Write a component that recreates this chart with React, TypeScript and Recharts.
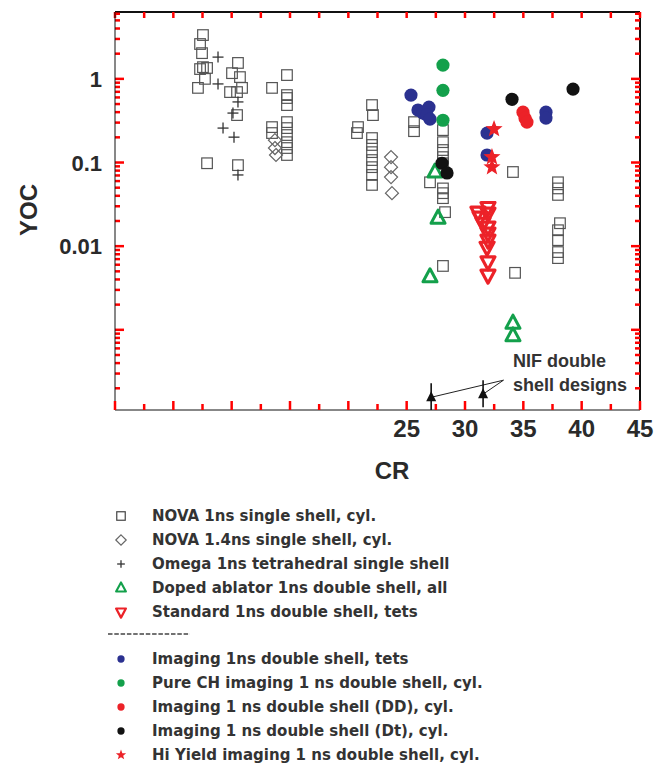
import React from 'react';
import { ScatterChart, Scatter, XAxis, YAxis, ReferenceLine } from 'recharts';

// ---------------- data: [CR, YOC] ----------------
const nova1ns: [number, number][] = [
  [7.54, 3.34], [7.29, 2.61], [7.46, 2.03], [7.54, 1.38], [7.29, 1.31], [7.89, 1.35], [7.71, 1.0], [7.11, 0.78],
  [10.54, 1.55], [10.03, 1.17], [10.71, 1.05], [10.89, 0.78], [9.86, 0.695], [10.46, 0.695], [10.46, 0.369],
  [7.89, 0.098], [10.54, 0.093],
  [13.46, 0.78], [14.74, 1.11], [14.74, 0.64], [14.74, 0.59], [14.74, 0.486], [14.74, 0.304], [14.74, 0.258],
  [14.74, 0.213], [14.74, 0.175], [14.74, 0.149], [14.74, 0.123], [13.46, 0.265], [13.46, 0.225],
  [22.03, 0.486], [22.11, 0.369], [20.83, 0.265], [20.74, 0.225], [22.03, 0.196], [22.03, 0.162], [22.03, 0.133],
  [22.03, 0.107], [22.03, 0.088], [22.03, 0.071], [22.03, 0.054],
  [25.63, 0.304], [25.63, 0.237],
  [28.11, 0.244], [28.11, 0.175], [28.11, 0.141], [28.11, 0.116], [28.11, 0.098], [28.11, 0.049], [28.11, 0.043],
  [28.11, 0.0375], [28.29, 0.0255], [28.11, 0.0058], [27.0, 0.058],
  [34.11, 0.077], [34.29, 0.0048],
  [37.97, 0.058], [37.97, 0.049], [37.97, 0.041], [38.14, 0.0188], [37.97, 0.0155], [37.97, 0.0118],
  [37.97, 0.0085], [37.97, 0.0072],
];
const nova14ns: [number, number][] = [
  [13.71, 0.185], [13.71, 0.149], [13.8, 0.123], [23.66, 0.116], [23.66, 0.088], [23.66, 0.067], [23.74, 0.043],
];
const omegaTet: [number, number][] = [
  [8.83, 1.82], [8.83, 0.87], [10.54, 0.53], [10.11, 0.39], [9.26, 0.258], [10.2, 0.201], [10.54, 0.071],
];
const dopedAblator: [number, number][] = [
  [27.43, 0.077], [27.69, 0.0216], [27.0, 0.0043], [34.11, 0.0012], [34.11, 0.00085],
];
const standardDS: [number, number][] = [
  [31.97, 0.029], [31.97, 0.0248], [31.29, 0.0222], [31.11, 0.0255], [31.54, 0.0188], [31.97, 0.0169],
  [31.97, 0.0143], [31.97, 0.0118], [31.89, 0.0097], [31.97, 0.0065], [31.97, 0.0045],
];
const imagingTets: [number, number][] = [
  [25.37, 0.64], [25.97, 0.424], [26.4, 0.39], [26.91, 0.46], [26.74, 0.369], [27.0, 0.33],
  [31.89, 0.225], [31.89, 0.123], [36.94, 0.4], [36.94, 0.34],
];
const pureCH: [number, number][] = [
  [28.11, 1.46], [28.11, 0.73], [28.11, 0.32],
];
const imagingDD: [number, number][] = [
  [34.97, 0.4], [35.14, 0.34], [35.31, 0.304],
];
const imagingDt: [number, number][] = [
  [34.03, 0.57], [39.26, 0.755], [28.03, 0.098], [28.46, 0.075],
];
const hiYield: [number, number][] = [
  [32.49, 0.251], [32.31, 0.116], [32.31, 0.088],
];
const nifDesigns: [number, number][] = [
  [27.1, 0.000156], [31.55, 0.00017],
];
const nifLabelAnchor: [number, number] = [33.3, 0.00025];

const xTickLabels = [25, 30, 35, 40, 45];
const yTickLabels = ['1', '0.1', '0.01'];

// ---------------- layout ----------------
const CHART_W = 663;
const CHART_H = 450;
const PLOT_LEFT = 115;
const PLOT_RIGHT = 640;
const PLOT_TOP = 12;
const X_AXIS_H = 30;
const MARGIN_BOTTOM = 10;
const X_DOMAIN: [number, number] = [0, 45];
const Y_DOMAIN: [number, number] = [1.1e-4, 6.3];
const FONT = "'Liberation Sans', Arial, Helvetica, sans-serif";
const LEGEND_FONT = "'DejaVu Sans', Verdana, sans-serif";

const PLOT_W = PLOT_RIGHT - PLOT_LEFT;
const PLOT_H = CHART_H - PLOT_TOP - X_AXIS_H - MARGIN_BOTTOM;
const PX_PER_X = PLOT_W / (X_DOMAIN[1] - X_DOMAIN[0]);
const PX_PER_DECADE = PLOT_H / (Math.log10(Y_DOMAIN[1]) - Math.log10(Y_DOMAIN[0]));
const dx = (px: number) => px / PX_PER_X;
const fy = (px: number) => Math.pow(10, px / PX_PER_DECADE);

const xTicks: number[] = [];
for (let i = 0; i <= 18; i++) xTicks.push(i * 2.5);
const yTicks: number[] = [];
for (let d = -4; d <= 0; d++) {
  for (let m = 1; m <= 9; m++) {
    const v = parseFloat((m * Math.pow(10, d)).toPrecision(6));
    if (v >= Y_DOMAIN[0] * 0.999 && v <= Y_DOMAIN[1]) yTicks.push(v);
  }
}
const isMajorX = (v: number) => Math.abs(v / 5 - Math.round(v / 5)) < 1e-9;
const isMajorY = (v: number) => {
  const lg = Math.log10(v);
  return Math.abs(lg - Math.round(lg)) < 1e-6;
};

const BLUE = '#2b3190';
const GREEN = '#13a04b';
const RED = '#ec2228';
const BLACK = '#121212';
const GRAY = '#555';
const AXIS = '#111';
const TICK = 'red';

type Kind = 'square' | 'diamond' | 'plus' | 'triUp' | 'triDown' | 'circle' | 'star' | 'nif';

function starPoints(cx: number, cy: number, R: number, r: number) {
  const pts: string[] = [];
  for (let i = 0; i < 10; i++) {
    const ang = -Math.PI / 2 + (i * Math.PI) / 5;
    const rad = i % 2 === 0 ? R : r;
    pts.push(`${cx + rad * Math.cos(ang)},${cy + rad * Math.sin(ang)}`);
  }
  return pts.join(' ');
}

function Marker({ kind, cx, cy, color, s = 1 }: { kind: Kind; cx: number; cy: number; color: string; s?: number }) {
  if (cx == null || cy == null || isNaN(cx) || isNaN(cy)) return null;
  switch (kind) {
    case 'square': {
      const h = 5.3 * s;
      return <rect x={cx - h} y={cy - h} width={2 * h} height={2 * h} fill="none" stroke={color} strokeWidth={1.2} />;
    }
    case 'diamond': {
      const h = 6.5 * s;
      return (
        <polygon points={`${cx},${cy - h} ${cx + h},${cy} ${cx},${cy + h} ${cx - h},${cy}`} fill="none" stroke={color} strokeWidth={1.2} />
      );
    }
    case 'plus': {
      const h = 5.5 * s;
      return (
        <g stroke={color} strokeWidth={1.3}>
          <line x1={cx - h} y1={cy} x2={cx + h} y2={cy} />
          <line x1={cx} y1={cy - h} x2={cx} y2={cy + h} />
        </g>
      );
    }
    case 'triUp': {
      const w = 7 * s, t = 8 * s, b = 5 * s;
      return (
        <polygon points={`${cx},${cy - t} ${cx + w},${cy + b} ${cx - w},${cy + b}`} fill="none" stroke={color} strokeWidth={3 * s} strokeLinejoin="round" />
      );
    }
    case 'triDown': {
      const w = 7 * s, t = 8 * s, b = 5 * s;
      return (
        <polygon points={`${cx},${cy + t} ${cx + w},${cy - b} ${cx - w},${cy - b}`} fill="none" stroke={color} strokeWidth={3.2 * s} strokeLinejoin="round" />
      );
    }
    case 'circle':
      return <circle cx={cx} cy={cy} r={6.6 * s} fill={color} />;
    case 'star':
      return <polygon points={starPoints(cx, cy, 9 * s, 3.8 * s)} fill={color} />;
    case 'nif':
      return (
        <g>
          <line x1={cx} y1={cy - 14} x2={cx} y2={cy + 13} stroke={color} strokeWidth={1.6} />
          <polygon points={`${cx},${cy - 6} ${cx + 5},${cy + 4} ${cx - 5},${cy + 4}`} fill={color} />
        </g>
      );
  }
  return null;
}

type Series = { name: string; data: [number, number][]; kind: Kind; color: string; legendScale: number };

const seriesA: Series[] = [
  { name: 'NOVA 1ns single shell, cyl.', data: nova1ns, kind: 'square', color: GRAY, legendScale: 0.8 },
  { name: 'NOVA 1.4ns single shell, cyl.', data: nova14ns, kind: 'diamond', color: '#666', legendScale: 0.8 },
  { name: 'Omega 1ns tetrahedral single shell', data: omegaTet, kind: 'plus', color: '#333', legendScale: 0.7 },
  { name: 'Doped ablator 1ns double shell, all', data: dopedAblator, kind: 'triUp', color: GREEN, legendScale: 0.7 },
  { name: 'Standard 1ns double shell, tets', data: standardDS, kind: 'triDown', color: RED, legendScale: 0.7 },
];
const seriesB: Series[] = [
  { name: 'Imaging 1ns double shell, tets', data: imagingTets, kind: 'circle', color: BLUE, legendScale: 0.55 },
  { name: 'Pure CH imaging 1 ns double shell, cyl.', data: pureCH, kind: 'circle', color: GREEN, legendScale: 0.55 },
  { name: 'Imaging 1 ns double shell (DD), cyl.', data: imagingDD, kind: 'circle', color: RED, legendScale: 0.55 },
  { name: 'Imaging 1 ns double shell (Dt), cyl.', data: imagingDt, kind: 'circle', color: BLACK, legendScale: 0.55 },
  { name: 'Hi Yield imaging 1 ns double shell, cyl.', data: hiYield, kind: 'star', color: RED, legendScale: 0.6 },
];

const toPts = (arr: [number, number][]) => arr.map(([x, y]) => ({ x, y }));

const XTick = (props: any) => {
  const { x, y, payload } = props;
  const v = payload.value as number;
  const major = isMajorX(v);
  const show = major && xTickLabels.includes(v);
  return (
    <g>
      <line x1={x} y1={y} x2={x} y2={y - (major ? 9 : 6)} stroke={TICK} strokeWidth={2.5} />
      {show ? (
        <text x={x} y={y + 27} textAnchor="middle" fontSize={24} fontWeight="bold" fontFamily={FONT} fill="#2a2a2a">
          {String(v)}
        </text>
      ) : null}
    </g>
  );
};

const YTick = (props: any) => {
  const { x, y, payload } = props;
  const v = payload.value as number;
  const lbl = yTickLabels.find((t) => Math.abs(parseFloat(t) - v) < 1e-9);
  const len = isMajorY(v) ? 9 : 5;
  return (
    <g>
      <line x1={PLOT_RIGHT} y1={y} x2={PLOT_RIGHT - len} y2={y} stroke={TICK} strokeWidth={2.5} />
      {lbl ? (
        <text x={x - 13} y={y + 8} textAnchor="end" fontSize={22} fontWeight="bold" fontFamily={FONT} fill="#2a2a2a">
          {lbl}
        </text>
      ) : null}
    </g>
  );
};

function LegendRow({ s, top }: { s: Series; top: number }) {
  return (
    <div style={{ position: 'absolute', left: 110, top: top - 12, width: 24, height: 24 }}>
      <svg width={24} height={24} style={{ display: 'block' }}>
        <Marker kind={s.kind} cx={11} cy={12} color={s.kind === 'square' ? '#444' : s.color} s={s.legendScale} />
      </svg>
      <span
        style={{
          position: 'absolute',
          left: 42,
          top: 2,
          whiteSpace: 'nowrap',
          fontFamily: LEGEND_FONT,
          fontWeight: 'bold',
          fontSize: 15,
          color: '#333',
          lineHeight: '20px',
        }}
      >
        {s.name}
      </span>
    </div>
  );
}

export default function App() {
  const rowsA = [516, 540, 564, 588, 612];
  const rowsB = [659, 683, 707, 731, 755];

  const segs: { k: string; s: { x: number; y: number }[] }[] = [];
  yTicks.forEach((v) => segs.push({ k: 'l' + v, s: [{ x: X_DOMAIN[0], y: v }, { x: X_DOMAIN[0] + dx(isMajorY(v) ? 9 : 5), y: v }] }));
  xTicks.forEach((v) => segs.push({ k: 't' + v, s: [{ x: v, y: Y_DOMAIN[1] }, { x: v, y: Y_DOMAIN[1] / fy(6) }] }));

  return (
    <div style={{ position: 'absolute', left: 0, top: 0, width: 663, height: 766, background: '#fff' }}>
      <ScatterChart
        width={CHART_W}
        height={CHART_H}
        margin={{ top: PLOT_TOP, right: CHART_W - PLOT_RIGHT, left: PLOT_LEFT - 60, bottom: MARGIN_BOTTOM }}
      >
        <XAxis
          xAxisId="b"
          type="number"
          dataKey="x"
          domain={X_DOMAIN}
          ticks={xTicks}
          interval={0}
          allowDataOverflow
          height={X_AXIS_H}
          tickSize={0}
          tickMargin={0}
          tickLine={false}
          stroke={AXIS}
          tick={<XTick />}
        />
        <YAxis
          yAxisId="l"
          type="number"
          dataKey="y"
          scale="log"
          domain={Y_DOMAIN}
          ticks={yTicks}
          interval={0}
          allowDataOverflow
          width={60}
          tickSize={0}
          tickMargin={0}
          tickLine={false}
          stroke={AXIS}
          tick={<YTick />}
        />
        <ReferenceLine xAxisId="b" yAxisId="l" y={Y_DOMAIN[1]} stroke={AXIS} strokeWidth={2} ifOverflow="visible" />
        <ReferenceLine xAxisId="b" yAxisId="l" x={X_DOMAIN[1]} stroke={AXIS} strokeWidth={2} ifOverflow="visible" />
        {segs.map((t) => (
          <ReferenceLine key={t.k} xAxisId="b" yAxisId="l" segment={t.s as any} stroke={TICK} strokeWidth={2.5} ifOverflow="visible" />
        ))}
        {[...seriesA, ...seriesB].map((s) => (
          <Scatter
            key={s.name}
            xAxisId="b"
            yAxisId="l"
            name={s.name}
            data={toPts(s.data)}
            isAnimationActive={false}
            shape={(p: any) => <Marker kind={s.kind} cx={p.cx} cy={p.cy} color={s.color} />}
          />
        ))}
        <Scatter
          xAxisId="b"
          yAxisId="l"
          name="NIF double shell designs"
          data={toPts(nifDesigns)}
          isAnimationActive={false}
          shape={(p: any) => <Marker kind="nif" cx={p.cx} cy={p.cy} color="#111" />}
        />
        {nifDesigns.map(([x, y], i) => (
          <ReferenceLine
            key={'nif' + i}
            xAxisId="b"
            yAxisId="l"
            segment={[{ x, y }, { x: nifLabelAnchor[0], y: nifLabelAnchor[1] }]}
            stroke="#222"
            strokeWidth={1}
            ifOverflow="visible"
          />
        ))}
      </ScatterChart>

      <div
        style={{
          position: 'absolute',
          left: 29,
          top: 210,
          transform: 'translate(-50%, -50%) rotate(-90deg)',
          fontFamily: FONT,
          fontWeight: 'bold',
          fontSize: 24,
          color: '#2a2a2a',
          whiteSpace: 'nowrap',
        }}
      >
        YOC
      </div>
      <div
        style={{
          position: 'absolute',
          left: 392,
          top: 471,
          transform: 'translate(-50%, -50%)',
          fontFamily: FONT,
          fontWeight: 'bold',
          fontSize: 24,
          color: '#2a2a2a',
          whiteSpace: 'nowrap',
        }}
      >
        CR
      </div>
      <div
        style={{
          position: 'absolute',
          left: 513,
          top: 349,
          fontFamily: FONT,
          fontWeight: 'bold',
          fontSize: 18,
          lineHeight: '24px',
          color: '#333',
          whiteSpace: 'nowrap',
        }}
      >
        NIF double
        <br />
        shell designs
      </div>

      {seriesA.map((s, i) => (
        <LegendRow key={s.name} s={s} top={rowsA[i]} />
      ))}
      <svg style={{ position: 'absolute', left: 106, top: 630 }} width={86} height={8}>
        <line x1={2} y1={4} x2={84} y2={4} stroke="#444" strokeWidth={1.5} strokeDasharray="4.5 1.8" />
      </svg>
      {seriesB.map((s, i) => (
        <LegendRow key={s.name} s={s} top={rowsB[i]} />
      ))}
    </div>
  );
}
